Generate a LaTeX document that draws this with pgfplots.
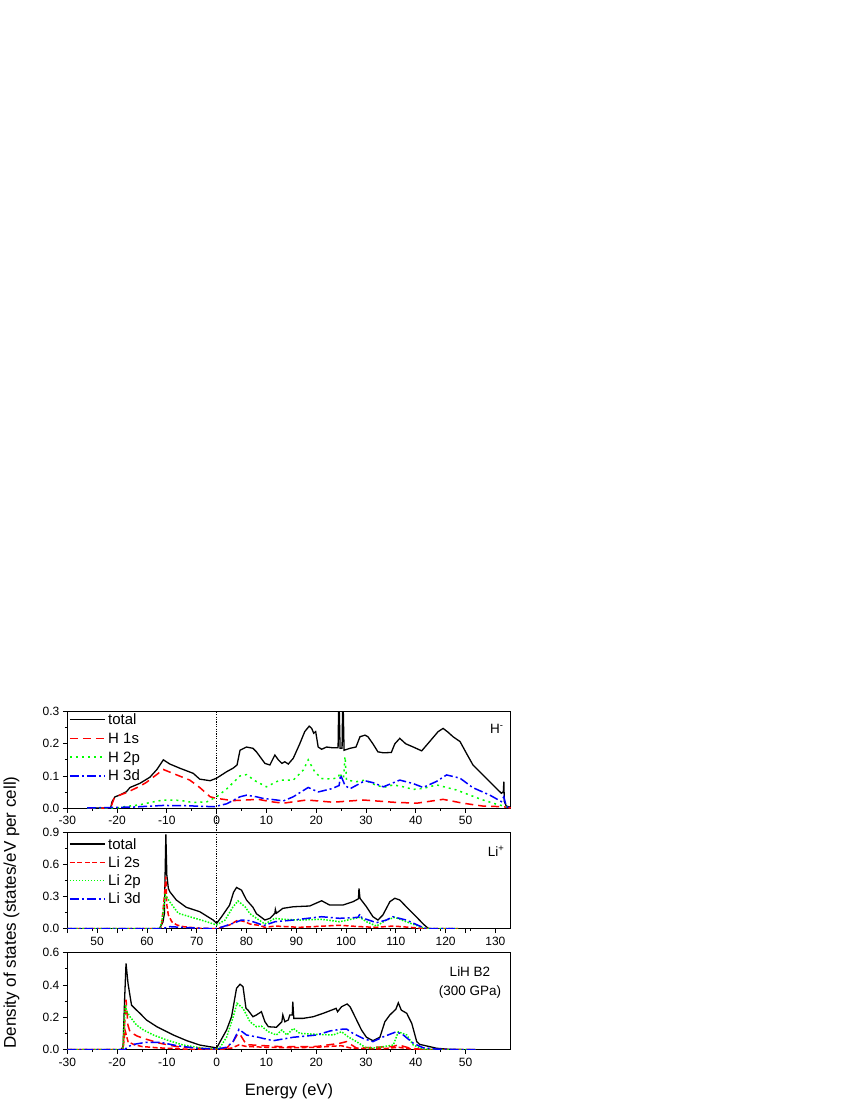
\documentclass[border=0pt]{standalone}
\usepackage{fontspec}
\setmainfont{Liberation Sans}
\usepackage{pgfplots}
\pgfplotsset{compat=1.18}
\definecolor{cR}{rgb}{1,0,0}
\definecolor{cG}{rgb}{0,1,0}
\definecolor{cB}{rgb}{0,0,1}
\pgfplotsset{
  panel/.style={
    scale only axis, width=443.5pt,
    ymin=0,
    tick align=outside, tick pos=left,
    axis line style={line width=0.9pt},
    major tick length=4.5pt, minor tick length=2.5pt,
    minor x tick num=1, minor y tick num=1,
    every tick/.style={line width=0.8pt, black},
    yticklabel style={/pgf/number format/.cd,fixed,fixed zerofill,precision=1},
    tick label style={font=\fontsize{12}{14}\selectfont},
    /pgf/number format/assume math mode=true,
  },
}
\tikzset{
  stTot/.style={color=black, solid, line width=1.3pt},
  stHs/.style={color=cR, line width=1.5pt, dash pattern=on 8pt off 5pt},
  stLs/.style={color=cR, line width=1.5pt, dash pattern=on 5pt off 2.5pt},
  stHp/.style={color=cG, line width=1.5pt, dash pattern=on 2pt off 4pt},
  stLp/.style={color=cG, line width=1.5pt, dash pattern=on 1.5pt off 1.5pt},
  stDd/.style={color=cB, line width=1.5pt, dash pattern=on 9pt off 3pt on 2pt off 3pt},
  lgtext/.style={anchor=base west, inner sep=0pt, font=\fontsize{15}{17}\selectfont},
}
\begin{document}
\begin{tikzpicture}
\useasboundingbox (0,0) rectangle (850pt,-1100pt);
% ---------------- Panel 1 : H-
\begin{axis}[panel, at={(67.3pt,-808pt)}, anchor=south west, height=96.3pt,
  xmin=-30, xmax=59.1, ymax=0.3, xtick={-30,-20,...,50}, ytick={0,0.1,0.2,0.3},
  clip=false]
\addplot[stTot] coordinates {(-26,0) (-21.3,0) (-21.0,0.02) (-20.4,0.035) (-19.5,0.04) (-18.1,0.051) (-17.4,0.064) (-15.4,0.077) (-13.4,0.096) (-12,0.12) (-10.7,0.15) (-9.4,0.137) (-7.4,0.124) (-4.7,0.108) (-3.4,0.09) (-1.3,0.085) (0,0.093) (2.0,0.113) (3.3,0.124) (4.1,0.134) (4.7,0.18) (6,0.19) (7.3,0.186) (8.0,0.175) (9.7,0.139) (10.7,0.134) (11.7,0.165) (12.4,0.15) (13.1,0.139) (13.7,0.144) (14.4,0.137) (15.4,0.155) (16.7,0.2) (17.7,0.238) (18.6,0.255) (19.1,0.248) (19.5,0.233) (19.9,0.238) (20.4,0.19) (21.1,0.183) (22.1,0.19) (23.1,0.188) (24.4,0.188) (24.5,0.3) (24.65,0.3) (24.8,0.186) (25.2,0.186) (25.3,0.3) (25.45,0.3) (25.6,0.18) (26.8,0.186) (28,0.19) (28.8,0.222) (29.8,0.227) (30.4,0.222) (31.4,0.2) (32.4,0.175) (33.5,0.172) (35.1,0.173) (35.8,0.2) (36.8,0.217) (37.5,0.207) (38,0.2) (39.5,0.19) (41.2,0.178) (42.8,0.207) (44.5,0.238) (45.5,0.248) (46.5,0.236) (47.5,0.222) (48.9,0.207) (50.2,0.17) (51.5,0.134) (53.5,0.103) (55.5,0.072) (57.2,0.046) (57.6,0.05) (57.7,0.082) (57.8,0.02) (58.2,0.006) (59.1,0.002)};
\addplot[stHs] coordinates {(-26,0) (-21.3,0) (-20.6,0.03) (-20,0.037) (-18.1,0.048) (-15.4,0.068) (-14.1,0.08) (-10.7,0.12) (-8,0.103) (-5.4,0.087) (-3.4,0.064) (-1.3,0.035) (0,0.03) (3.3,0.023) (6,0.025) (8.4,0.027) (10.7,0.02) (13.4,0.015) (18.1,0.025) (23.4,0.018) (29.4,0.025) (35.5,0.018) (40.2,0.015) (45.5,0.027) (49.5,0.015) (53.5,0.006) (57.6,0.004) (59.1,0)};
\addplot[stHp] coordinates {(-26,0) (-20,0) (-19.1,0.003) (-15.4,0.01) (-13.4,0.017) (-10.7,0.025) (-7.4,0.024) (-4.7,0.017) (-2,0.019) (0,0.035) (2,0.059) (4.7,0.1) (6,0.104) (7.7,0.085) (10,0.066) (12.7,0.087) (15.4,0.087) (17.4,0.118) (18.4,0.15) (19.7,0.113) (21.1,0.092) (23.1,0.09) (24.4,0.095) (24.8,0.11) (25.2,0.092) (25.5,0.095) (25.8,0.16) (26.1,0.087) (28.1,0.082) (29.8,0.087) (31.4,0.075) (33.5,0.064) (35.5,0.072) (37.5,0.066) (39.5,0.058) (41.5,0.061) (44.2,0.072) (46.2,0.064) (48.2,0.056) (50.9,0.04) (53.5,0.025) (56.2,0.012) (58.2,0.004) (59.1,0)};
\addplot[stDd] coordinates {(-26,0) (-16.7,0.003) (-10.7,0.008) (-6,0.007) (-0.5,0.004) (2,0.013) (4.7,0.035) (6,0.04) (8,0.035) (9.3,0.03) (12,0.025) (13.4,0.022) (15.4,0.035) (18.4,0.064) (20.4,0.05) (23.1,0.06) (24.6,0.07) (24.9,0.103) (25.8,0.07) (26.8,0.06) (29.8,0.085) (31.4,0.079) (33.5,0.066) (36.8,0.087) (39.5,0.076) (41.5,0.064) (44.2,0.083) (46.2,0.103) (48.9,0.093) (51.4,0.064) (54.9,0.04) (57.2,0.02) (57.7,0.035) (58.2,0.004) (59.1,0)};
% legend keys
\addplot[stTot] coordinates {(-29.46,0.2751) (-22.43,0.2751)};
\addplot[stHs] coordinates {(-29.46,0.2168) (-22.43,0.2168)};
\addplot[stHp] coordinates {(-29.46,0.1586) (-22.43,0.1586)};
\addplot[stDd] coordinates {(-29.46,0.1003) (-22.43,0.1003)};
\addplot[black, line width=1pt, dash pattern=on 1.2pt off 1.2pt] coordinates {(0,0.3) (0,-0.753)};
\end{axis}
% ---------------- Panel 2 top ticks
\begin{axis}[panel, at={(67.3pt,-928.7pt)}, anchor=south west, height=96.4pt,
  xmin=-30, xmax=59.1, ymax=0.9, xtick={-30,-20,...,50}, xticklabels={},
  axis x line*=top, hide y axis]
\end{axis}
% ---------------- Panel 2 : Li+
\begin{axis}[panel, at={(67.3pt,-928.7pt)}, anchor=south west, height=96.4pt,
  xmin=44, xmax=133.1, ymax=0.9, xtick={50,60,...,130}, ytick={0,0.3,0.6,0.9}]
\addplot[stTot] coordinates {(44,0) (62.5,0) (63.2,0.06) (63.5,0.14) (63.8,0.88) (64.0,0.5) (64.3,0.377) (64.6,0.345) (65.9,0.268) (67.9,0.2) (70.6,0.159) (73.3,0.081) (74,0.05) (75,0.112) (76.6,0.22) (77.4,0.34) (78,0.385) (79,0.36) (80,0.268) (81.3,0.2) (82,0.14) (83.7,0.081) (84.7,0.097) (85.7,0.144) (85.8,0.18) (86,0.144) (87.3,0.19) (89.4,0.205) (92.7,0.212) (95.1,0.261) (96.7,0.221) (99.4,0.221) (101.4,0.252) (102.5,0.28) (102.6,0.377) (102.8,0.284) (104.1,0.205) (105.4,0.112) (106.4,0.081) (107.4,0.128) (108.8,0.252) (109.8,0.284) (110.8,0.268) (112.1,0.205) (114.1,0.112) (115.5,0.044) (116.5,0.004) (117,0) (133.1,0)};
\addplot[stLs] coordinates {(44,0) (62.6,0) (62.9,0.019) (63.5,0.3) (63.8,0.486) (64.0,0.22) (64.3,0.128) (65,0.065) (66,0.035) (67.3,0.019) (70.6,0.004) (74,0) (76.6,0.035) (78.3,0.081) (79.7,0.065) (80.7,0.044) (82.7,0.03) (83.7,0.013) (85.8,0.025) (90.7,0.013) (98.7,0.032) (102.8,0.019) (106.1,0.013) (109.4,0.025) (112.8,0.013) (116.1,0) (122.5,0)};
\addplot[stLp] coordinates {(44,0) (62.6,0) (63.1,0.097) (63.7,0.315) (64.6,0.25) (66.3,0.144) (68.6,0.112) (72,0.065) (74,0.035) (75.7,0.081) (77.3,0.205) (78.3,0.259) (79.7,0.205) (80.7,0.14) (82,0.097) (83.7,0.044) (85.7,0.097) (87.3,0.088) (90.7,0.081) (95.1,0.088) (98.7,0.065) (102.8,0.106) (104.1,0.065) (106.1,0.025) (108.1,0.081) (109.8,0.106) (112.1,0.065) (114.8,0.019) (116.1,0) (122.5,0)};
\addplot[stDd] coordinates {(44,0) (63,0) (64.6,0.019) (70.6,0.004) (74,0) (77.3,0.05) (79,0.081) (80.7,0.075) (83.5,0.03) (85.7,0.065) (89.4,0.081) (95.1,0.112) (98.7,0.097) (102.4,0.106) (102.8,0.137) (103.2,0.1) (104.1,0.088) (106.1,0.056) (108.1,0.081) (109.4,0.112) (112.1,0.081) (114.8,0.025) (116.1,0) (122.5,0)};
% legend keys
\addplot[stTot] coordinates {(44.54,0.791) (51.57,0.791)};
\addplot[stLs] coordinates {(44.54,0.620) (51.57,0.620)};
\addplot[stLp] coordinates {(44.54,0.449) (51.57,0.449)};
\addplot[stDd] coordinates {(44.54,0.278) (51.57,0.278)};
\end{axis}
% ---------------- Panel 3 : LiH B2
\begin{axis}[panel, at={(67.3pt,-1049.7pt)}, anchor=south west, height=97pt,
  xmin=-30, xmax=59.1, ymax=0.6, xtick={-30,-20,...,50}, ytick={0,0.2,0.4,0.6}]
\addplot[stTot] coordinates {(-30,0) (-19.2,0) (-18.8,0.019) (-18.5,0.3) (-18.2,0.534) (-17.8,0.41) (-17.1,0.276) (-16.1,0.245) (-15.4,0.225) (-14.1,0.184) (-12,0.142) (-10.7,0.122) (-8.7,0.091) (-6,0.056) (-3.4,0.029) (-0.7,0.015) (0,0.01) (0.7,0.05) (2,0.122) (3,0.204) (4,0.38) (4.7,0.405) (5.3,0.39) (5.9,0.256) (6.3,0.245) (7.3,0.204) (8,0.215) (9,0.235) (9.7,0.173) (10.4,0.142) (12,0.139) (13.1,0.173) (13.3,0.215) (13.7,0.173) (14.4,0.184) (14.7,0.215) (15.2,0.215) (15.3,0.297) (15.5,0.194) (17.4,0.194) (19.4,0.204) (21.4,0.225) (23.1,0.245) (24,0.256) (24.3,0.235) (25.1,0.266) (26.2,0.283) (26.8,0.266) (27.8,0.204) (29.1,0.122) (30.1,0.077) (31.4,0.056) (32.8,0.077) (33.8,0.173) (34.8,0.215) (36,0.25) (36.5,0.29) (37.1,0.245) (38.2,0.225) (39.2,0.163) (40.2,0.05) (40.8,0.033) (42.8,0.019) (44.2,0.009) (46.9,0.002) (50,0) (59.1,0)};
\addplot[stHs] coordinates {(-30,0) (-18.8,0) (-18.4,0.2) (-18.2,0.31) (-17.8,0.15) (-17.4,0.11) (-16,0.085) (-14.7,0.07) (-11.4,0.04) (-8,0.019) (-1.3,0.004) (0,0) (2,0.01) (3.3,0.05) (4.3,0.1) (4.8,0.09) (6,0.03) (6.7,0.03) (13.4,0.018) (20.1,0.02) (24.8,0.04) (26.1,0.05) (28.1,0.01) (35.5,0.02) (36.5,0.03) (38.8,0.01) (42,0) (52,0)};
\addplot[stLs] coordinates {(-30,0) (-18.8,0) (-18.4,0.12) (-17.8,0.05) (-16.5,0.03) (-15,0.02) (-12,0.012) (-5,0.002) (0,0) (3,0.01) (4.5,0.03) (6,0.02) (10,0.015) (15,0.012) (20,0.015) (25,0.025) (27,0.01) (33,0.005) (36.5,0.015) (40,0) (52,0)};
\addplot[stLp] coordinates {(-30,0) (-18.8,0) (-18.5,0.2) (-18.3,0.28) (-18.1,0.24) (-17.4,0.204) (-16.1,0.153) (-14.7,0.122) (-12.7,0.091) (-10,0.06) (-6.7,0.029) (-2.7,0.009) (0,0.005) (0.7,0.015) (2,0.077) (3.3,0.2) (4.1,0.287) (5.3,0.256) (6.7,0.173) (8,0.142) (9,0.146) (10.4,0.111) (12,0.091) (13.1,0.122) (14.1,0.091) (15.4,0.132) (16.7,0.101) (20.1,0.095) (23.4,0.091) (25.1,0.111) (26.4,0.08) (28.1,0.05) (29.8,0.015) (31.4,0.01) (33.5,0.019) (35.5,0.029) (36.5,0.111) (38.2,0.091) (39.5,0.029) (41.5,0.004) (45,0) (52,0)};
\addplot[stDd] coordinates {(-30,0) (-18.5,0) (-17.8,0.019) (-16.7,0.033) (-14.1,0.046) (-11.4,0.046) (-8,0.025) (-4,0.009) (0,0.004) (2,0.015) (3.3,0.05) (4.5,0.126) (6,0.091) (8.4,0.077) (9.3,0.07) (11.4,0.056) (15.4,0.077) (20.1,0.091) (22.8,0.116) (24.8,0.126) (26.1,0.128) (27.4,0.101) (29.4,0.07) (31.4,0.05) (33.5,0.08) (36.1,0.111) (37.5,0.091) (39.5,0.04) (41.5,0.012) (44.2,0.004) (50,0) (52,0)};
\end{axis}
% ---------------- legend texts and labels
\node[lgtext] at (108pt,-724.7pt) {total};
\node[lgtext] at (108pt,-743.4pt) {H 1s};
\node[lgtext] at (108pt,-762.1pt) {H 2p};
\node[lgtext] at (108pt,-780.8pt) {H 3d};
\node[lgtext] at (108pt,-849pt) {total};
\node[lgtext] at (108pt,-867.3pt) {Li 2s};
\node[lgtext] at (108pt,-885.6pt) {Li 2p};
\node[lgtext] at (108pt,-903.9pt) {Li 3d};
\node[anchor=base east, font=\fontsize{13.5}{15}\selectfont] at (507pt,-733.3pt) {H\textsuperscript{-}};
\node[anchor=base east, font=\fontsize{13.5}{15}\selectfont] at (508pt,-856.7pt) {Li\textsuperscript{+}};
\node[anchor=base, font=\fontsize{13.5}{15}\selectfont] at (470pt,-976.7pt) {LiH B2};
\node[anchor=base, font=\fontsize{13.5}{15}\selectfont] at (470pt,-995pt) {(300 GPa)};
\node[anchor=base, font=\fontsize{16.5}{18}\selectfont] at (289pt,-1095.5pt) {Energy (eV)};
\node[rotate=90, anchor=center, font=\fontsize{17}{19}\selectfont] at (11.5pt,-912.5pt) {Density of states (states/eV per cell)};
\end{tikzpicture}
\end{document}
